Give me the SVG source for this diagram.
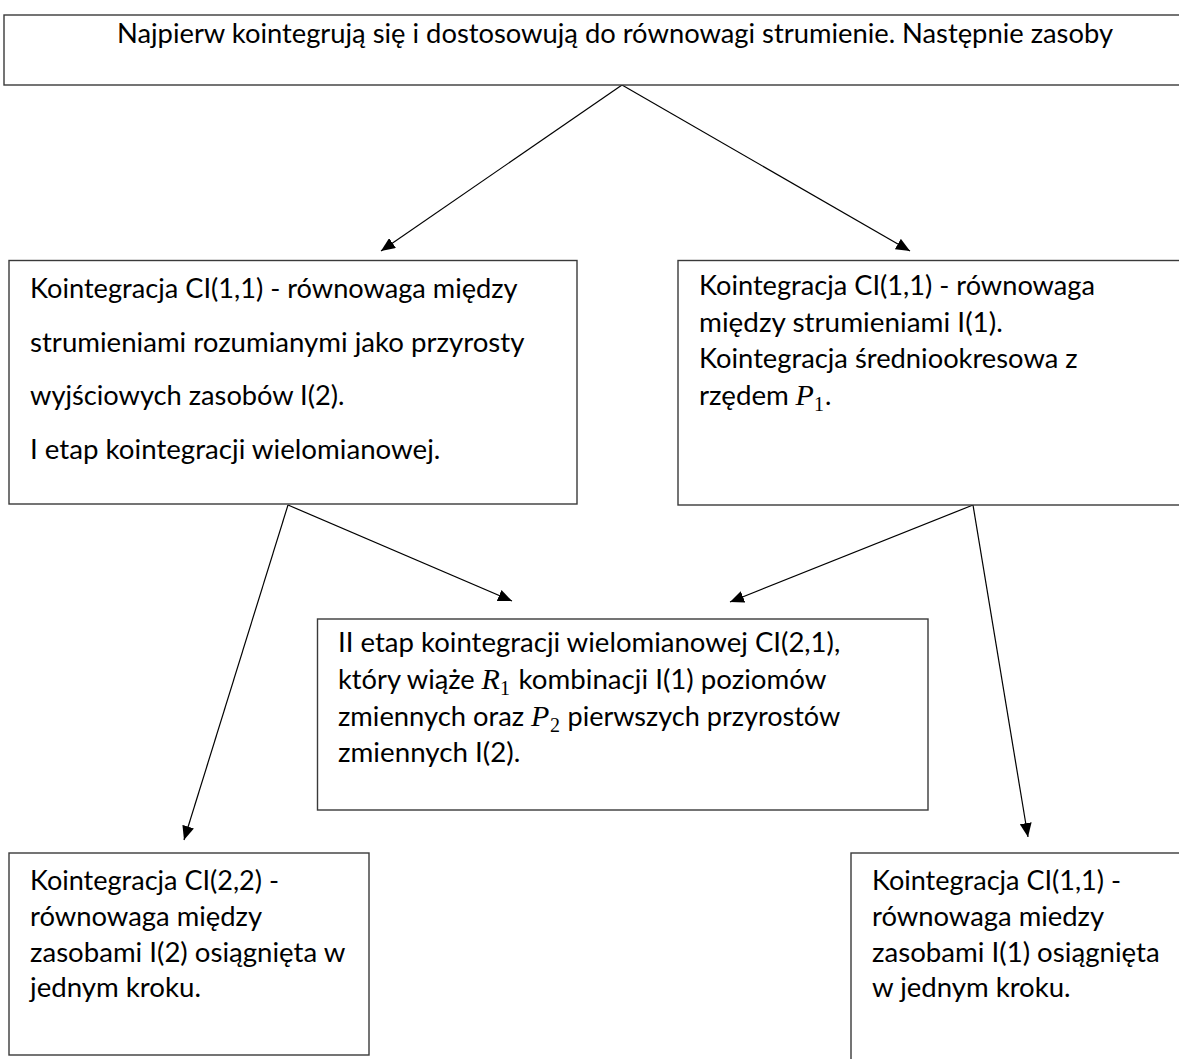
<svg xmlns="http://www.w3.org/2000/svg" width="1179" height="1059" viewBox="0 0 1179 1059">
<style>
.box{fill:#fff;stroke:#3a3a3a;stroke-width:1.4}
.t{font-family:Lato,'Liberation Sans',sans-serif;font-size:27px;fill:#000}
.m{font-family:'Liberation Serif',serif;font-size:30px;font-style:italic;fill:#000}
.s{font-family:'Liberation Serif',serif;font-size:20px;fill:#000}
.c{fill:none;stroke:#000;stroke-width:1.2;marker-end:url(#ah)}
</style>
<defs>
<marker id="ah" markerUnits="userSpaceOnUse" markerWidth="15" markerHeight="12" refX="14" refY="6" orient="auto"><path d="M0,0 L14,6 L0,12 z" fill="#000"/></marker>
</defs>
<rect x="0" y="0" width="1179" height="1059" fill="#fff"/>

<g id="connectors">
<path class="c" d="M622,85 L381,251"/>
<path class="c" d="M622,85 L910,251"/>
<path class="c" d="M288,505 L184,840"/>
<path class="c" d="M288,505 L512,601"/>
<path class="c" d="M973,505 L730,602"/>
<path class="c" d="M973,505 L1028,837"/>
</g>

<g id="top">
<rect class="box" x="4" y="15" width="1230" height="70"/>
<text class="t" x="117" y="43" textLength="996" lengthAdjust="spacingAndGlyphs">Najpierw kointegrują się i dostosowują do równowagi strumienie. Następnie zasoby</text>
</g>

<g id="left-mid">
<rect class="box" x="9" y="260.5" width="568" height="243.5"/>
<text class="t" x="30" y="298" textLength="487.6" lengthAdjust="spacingAndGlyphs">Kointegracja CI(1,1) - równowaga między</text>
<text class="t" x="30" y="351.7" textLength="494.4" lengthAdjust="spacingAndGlyphs">strumieniami rozumianymi jako przyrosty</text>
<text class="t" x="30" y="405.4" textLength="314.5" lengthAdjust="spacingAndGlyphs">wyjściowych zasobów I(2).</text>
<text class="t" x="30" y="459" textLength="410.4" lengthAdjust="spacingAndGlyphs">I etap kointegracji wielomianowej.</text>
</g>

<g id="right-mid">
<rect class="box" x="678" y="260.5" width="560" height="244.5"/>
<text class="t" x="699" y="295" textLength="396" lengthAdjust="spacingAndGlyphs">Kointegracja CI(1,1) - równowaga</text>
<text class="t" x="699" y="332" textLength="303.8" lengthAdjust="spacingAndGlyphs">między strumieniami I(1).</text>
<text class="t" x="699" y="368" textLength="378.6" lengthAdjust="spacingAndGlyphs">Kointegracja średniookresowa z</text>
<text class="t" x="699" y="405" textLength="89.9" lengthAdjust="spacingAndGlyphs">rzędem</text>
<text class="m" x="795.5" y="405">P</text>
<text class="s" x="814" y="411">1</text>
<text class="t" x="825" y="405">.</text>
</g>

<g id="center">
<rect class="box" x="317.5" y="619" width="610.5" height="191"/>
<text class="t" x="338" y="652" textLength="502.2" lengthAdjust="spacingAndGlyphs">II etap kointegracji wielomianowej CI(2,1),</text>
<text class="t" x="338" y="689" textLength="136.7" lengthAdjust="spacingAndGlyphs">który wiąże</text>
<text class="m" x="481.5" y="689">R</text>
<text class="s" x="500" y="695">1</text>
<text class="t" x="518.6" y="689" textLength="307.9" lengthAdjust="spacingAndGlyphs">kombinacji I(1) poziomów</text>
<text class="t" x="338" y="726" textLength="186.2" lengthAdjust="spacingAndGlyphs">zmiennych oraz</text>
<text class="m" x="531" y="726">P</text>
<text class="s" x="550" y="732">2</text>
<text class="t" x="567.5" y="726" textLength="272.7" lengthAdjust="spacingAndGlyphs">pierwszych przyrostów</text>
<text class="t" x="338" y="762" textLength="182.3" lengthAdjust="spacingAndGlyphs">zmiennych I(2).</text>
</g>

<g id="bottom-left">
<rect class="box" x="9" y="853" width="360" height="202"/>
<text class="t" x="30" y="890" textLength="249" lengthAdjust="spacingAndGlyphs">Kointegracja CI(2,2) -</text>
<text class="t" x="30" y="926" textLength="232.1" lengthAdjust="spacingAndGlyphs">równowaga między</text>
<text class="t" x="30" y="962" textLength="315.3" lengthAdjust="spacingAndGlyphs">zasobami I(2) osiągnięta w</text>
<text class="t" x="30" y="997" textLength="171" lengthAdjust="spacingAndGlyphs">jednym kroku.</text>
</g>

<g id="bottom-right">
<rect class="box" x="851" y="853" width="400" height="260"/>
<text class="t" x="872" y="890" textLength="249" lengthAdjust="spacingAndGlyphs">Kointegracja CI(1,1) -</text>
<text class="t" x="872" y="926" textLength="232.1" lengthAdjust="spacingAndGlyphs">równowaga miedzy</text>
<text class="t" x="872" y="962" textLength="287.7" lengthAdjust="spacingAndGlyphs">zasobami I(1) osiągnięta</text>
<text class="t" x="872" y="997" textLength="198.6" lengthAdjust="spacingAndGlyphs">w jednym kroku.</text>
</g>
</svg>
